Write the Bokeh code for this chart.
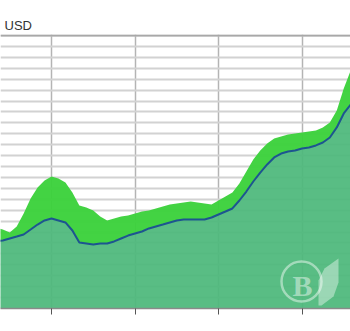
from bokeh.plotting import figure
from bokeh.models import FixedTicker, Span, Range1d
from bokeh.embed import file_html
from bokeh.resources import INLINE
from bokeh.core.properties import value

# months (index), gridlines every 12 months
months = list(range(4, 57))
upper = [7.42, 7.23, 6.96, 7.51, 8.70, 10.07, 11.08, 11.72, 12.09, 11.90,
         11.54, 10.62, 9.43, 9.25, 8.97, 8.42, 8.06, 8.24, 8.42, 8.52,
         8.70, 8.88, 8.97, 9.16, 9.34, 9.52, 9.62, 9.71, 9.80, 9.71,
         9.62, 9.52, 9.89, 10.26, 10.62, 11.45, 12.55, 13.64, 14.47, 15.11,
         15.57, 15.75, 15.93, 16.03, 16.12, 16.21, 16.30, 16.58, 17.03, 18.13,
         20.15, 21.79, 22.89]
lower = [6.14, 6.23, 6.41, 6.59, 6.78, 7.23, 7.69, 8.06, 8.24, 8.06,
         7.88, 7.14, 6.04, 5.95, 5.86, 5.95, 5.95, 6.14, 6.41, 6.68,
         6.87, 7.05, 7.33, 7.51, 7.69, 7.88, 8.06, 8.15, 8.15, 8.15,
         8.15, 8.33, 8.61, 8.88, 9.16, 9.89, 10.71, 11.63, 12.45, 13.19,
         13.83, 14.19, 14.38, 14.47, 14.65, 14.74, 14.93, 15.20, 15.66, 16.58,
         17.86, 18.68, 19.51]
x_ticks = [12, 24, 36, 48]
y_grid = list(range(0, 26))
unit_label = "USD"

X0, X1 = 4.67, 54.97
Y0, Y1 = 0.0, 25.09

p = figure(width=350, height=331, output_backend="svg", toolbar_location=None,
           x_range=Range1d(X0, X1), y_range=Range1d(Y0, Y1),
           y_axis_location=None, min_border_left=0, min_border_right=0,
           min_border_top=34, min_border_bottom=23, title=unit_label)
p.title.align = "left"
p.title.offset = 4
p.title.standoff = 3
p.title.text_font = "Liberation Sans"
p.title.text_font_size = "13px"
p.title.text_font_style = "normal"
p.title.text_color = "#333333"

p.outline_line_color = None
p.background_fill_color = "white"
p.border_fill_color = "white"

p.xgrid.ticker = FixedTicker(ticks=x_ticks)
p.xgrid.grid_line_color = "#b4b4b4"
p.xgrid.grid_line_width = 1.5
p.ygrid.ticker = FixedTicker(ticks=y_grid)
p.ygrid.grid_line_color = "#d2d2d2"
p.ygrid.grid_line_width = 2

p.xaxis.ticker = FixedTicker(ticks=x_ticks)
p.xaxis.axis_line_color = "#8a8a8a"
p.xaxis.axis_line_width = 1.5
p.xaxis.major_tick_line_color = "#555555"
p.xaxis.major_tick_in = 0
p.xaxis.major_tick_out = 6
p.xaxis.minor_tick_line_color = None
p.xaxis.major_label_text_font_size = "6px"
p.xaxis.major_label_text_alpha = 0

p.varea(x=months, y1=lower, y2=upper, fill_color="#3bd13b", fill_alpha=0.96)
p.varea(x=months, y1=[0] * len(months), y2=lower, fill_color="#4cb87b", fill_alpha=0.93)
p.line(x=months, y=lower, line_color="#1d5590", line_width=2)

p.add_layout(Span(location=25, dimension="width", line_color="#a8a8a8", line_width=2))

# watermark (decoration, placed in screen-proportional positions)
def sx(px):
    return X0 + px / 350.0 * (X1 - X0)

def sy(py):
    return Y0 + (308 - py) / 274.0 * (Y1 - Y0)

p.scatter(x=[sx(301)], y=[sy(281)], marker="circle", size=40, fill_color=None,
          line_color="white", line_alpha=0.45, line_width=2.5)
p.text(x=[sx(302)], y=[sy(285)], text=["B"], text_align="center", text_baseline="middle",
       text_font=value("Liberation Serif"), text_font_style="bold", text_font_size="30px",
       text_color="white", text_alpha=0.45)
leaf_px = [318, 318, 324, 338, 338, 333, 321]
leaf_py = [305, 280, 268, 258, 282, 296, 305]
p.patch(x=[sx(v) for v in leaf_px], y=[sy(v) for v in leaf_py],
        fill_color="white", fill_alpha=0.4, line_color=None)

open("out.html", "w").write(file_html(p, INLINE))
